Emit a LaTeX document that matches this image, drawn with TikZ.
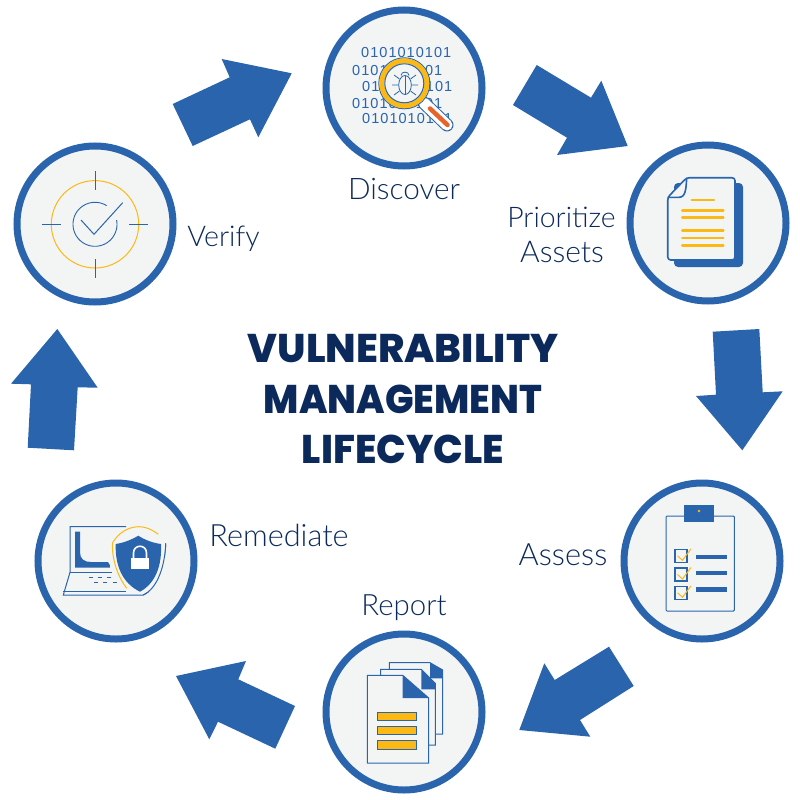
\documentclass[tikz,border=0pt]{standalone}
\usepackage{graphicx}
\usepackage{fontspec}
\setmainfont{Lato Light}
\newfontfamily\titlefont{Poppins ExtraBold}
\newfontfamily\bitfont[LetterSpace=7.2]{Liberation Sans}
\definecolor{brand}{HTML}{2A64AD}
\definecolor{pale}{HTML}{F3F5F5}
\definecolor{gold}{HTML}{FDB913}
\definecolor{navy}{HTML}{0B2A5B}
\definecolor{ember}{HTML}{E8632B}
\tikzset{
  ring/.style={circle,draw=brand,fill=pale,line width=7pt,minimum size=156pt,inner sep=0pt},
  lab/.style={text=navy,font=\fontsize{#1}{#1}\selectfont,inner sep=0pt,anchor=center},
  ttl/.style={text=navy,font=\titlefont\fontsize{40}{40}\selectfont,inner sep=0pt,anchor=center},
  bits/.style={text=brand,font=\bitfont\fontsize{14.5}{14.5}\selectfont,inner sep=0pt,anchor=west},
  blk/.style={fill=brand},
  ln/.style={draw=brand,line width=1pt},
  gl/.style={draw=gold,line width=2.7pt,line cap=round},
  bar/.style={fill=brand},
  goldbar/.style={fill=gold,draw=brand,line width=1pt},
  docpage/.style={draw=brand,fill=pale,line width=1pt},
}
\begin{document}
\begin{tikzpicture}[x=1pt,y=-1pt]
\useasboundingbox (0,0) rectangle (800,800);
% arrows
\fill[blk] (172.7,104) -- (192.7,146) -- (250,119.3) -- (258.3,137.3) -- (291.7,73.3) -- (221.7,59) -- (229.7,77.3) -- cycle;
\fill[blk] (536.7,65) -- (591,97.7) -- (601.3,80.7) -- (627.7,146) -- (557,155) -- (567,137.7) -- (513,105) -- cycle;
\fill[blk] (712.7,331.7) -- (759.3,329) -- (762.7,392.3) -- (782.7,391.3) -- (742.3,450.3) -- (696,396) -- (716,394.7) -- cycle;
\fill[blk] (609,646.7) -- (633.7,686) -- (580,720) -- (590.3,736.7) -- (519.3,730) -- (544.3,663.3) -- (554.7,680) -- cycle;
\fill[blk] (246,661) -- (176,676) -- (209.3,739.3) -- (218,721.7) -- (275.3,748.7) -- (295,706) -- (238.3,679.3) -- cycle;
\fill[blk] (57.3,329) -- (97.7,387.7) -- (77.7,387.3) -- (74,450.3) -- (27.7,447.7) -- (31,384.3) -- (11,383.7) -- cycle;
% rings
\node[ring] (discover) at (404,88) {};
\node[ring] (prioritize) at (708,223) {};
\node[ring] (assess) at (702,561) {};
\node[ring] (report) at (404,712) {};
\node[ring] (remediate) at (116,561) {};
\node[ring] (verify) at (95,224) {};
% labels
\node[lab=29.7] (l1) at (404,189) {Discover};
\node[lab=28.4] (l2) at (561.5,217) {Prioritize};
\node[lab=30] (l2b) at (562,252) {Assets};
\node[lab=30.8] (l3) at (563,555) {Assess};
\node[lab=29.4] (l4) at (404,608) {Report};
\node[lab=30.7] (l5) at (279,535) {Remediate};
\node[lab=28.6] (l6) at (223.5,239) {Verify};
% title
\node[ttl] (t1) at (403,349) {VULNERABILITY};
\node[ttl] (t2) at (403,399) {\scalebox{0.945}[1]{MANAGEMENT}};
\node[ttl] (t3) at (403,449) {\scalebox{0.98}[1]{LIFECYCLE}};
% discover icon
\node[bits] (b1) at (361,53) {0101010101};
\node[bits] (b2) at (352,71) {0101010101};
\node[bits] (b3) at (362,87) {0101010101};
\node[bits] (b4) at (352,104) {0101010101};
\node[bits] (b5) at (362,119) {0101010101};
\draw[brand,line width=13pt,line cap=round] (424,103) -- (447,125);
\draw[white,line width=11pt,line cap=round] (424,103) -- (447,125);
\draw[ember,line width=4.5pt,line cap=round] (430,108.5) -- (447.5,125);
\fill[pale] (404.3,83.3) circle (25);
\draw[brand,line width=1pt] (404.3,83.3) circle (25.5);
\draw[gold,line width=5pt] (404.3,83.3) circle (22.5);
\draw[brand,line width=1pt] (404.3,83.3) circle (19.5);
\draw[brand,line width=.8pt] (405,85) ellipse (6.3 and 9.5);
\draw[brand,line width=.8pt] (405,76) -- (405,95);
\draw[brand,line width=.8pt] (401,75.5) .. controls (401,71) and (409,71) .. (409,75.5);
\draw[brand,line width=.8pt] (399.5,79) -- (394,75) (398.7,85) -- (392,85) (399.5,91) -- (394,95);
\draw[brand,line width=.8pt] (410.5,79) -- (416,75) (411.3,85) -- (418,85) (410.5,91) -- (416,95);
% prioritize icon
\fill[brand,rounded corners=4pt] (674,183) rectangle (743,267);
\draw[brand,fill=pale,line width=1.6pt,rounded corners=3pt] (686.7,177.7) -- (735,177.7) -- (735,260) -- (667.7,260) -- (667.7,197.3) -- cycle;
\draw[brand,line width=1.6pt] (686.7,177.7) .. controls (686,188) and (686,197.3) .. (679,197.3) -- (667.7,197.3);
\draw[gl] (691.7,200) -- (714,200);
\draw[gl] (682.3,210.3) -- (723.3,210.3);
\draw[gl] (682.3,217.3) -- (723.3,217.3);
\draw[gl] (682.3,230.7) -- (723.3,230.7);
\draw[gl] (682.3,238) -- (723.3,238);
\draw[gl] (682.3,245.7) -- (723.3,245.7);
% assess icon
\draw[ln,rounded corners=1pt] (666,516) rectangle (734.3,611);
\fill[bar] (683.7,504.7) rectangle (714.3,522.3);
\fill[gold] (699,511) circle (1.3);
\foreach \yy in {549.3,568,586.3}{
  \draw[brand,line width=1.2pt] (675,\yy) rectangle (687,\yy+13);
  \draw[gold,line width=1pt] (677.5,\yy+6.5) -- (682.5,\yy+11) -- (691,\yy-0.5);
}
\fill[bar] (695.7,554.7) rectangle (726.7,558.9);
\fill[bar] (695.7,571) rectangle (726.7,575.2);
\fill[bar] (695.7,587.3) rectangle (726.7,591.5);
% report icon
\draw[docpage] (389.3,662.7) -- (430,662.7) -- (442.7,670) -- (442.7,734) -- (389.3,734) -- cycle;
\fill[bar] (430,662.7) -- (442.7,670) -- (442.7,678.3) -- (430,678.3) -- cycle;
\draw[docpage] (380.7,669.3) -- (421.3,669.3) -- (435.3,683.3) -- (435.3,745) -- (380.7,745) -- cycle;
\fill[bar] (421.3,669.3) -- (435.3,683.3) -- (435.3,689.3) -- (421.3,689.3) -- cycle;
\draw[docpage] (367.3,675.3) -- (402.7,675.3) -- (428.7,698) -- (428.7,763) -- (367.3,763) -- cycle;
\fill[bar] (402.7,675.3) -- (428.7,698) -- (402.7,698) -- cycle;
\draw[goldbar] (377.7,712) rectangle (416.7,720.3);
\draw[goldbar] (377.7,726) rectangle (416.7,734.3);
\draw[goldbar] (377.7,740.7) rectangle (416.7,749);
% remediate icon
\draw[ln] (126,526.7) -- (70,526.7) -- (70,572.3) -- (63.3,595) -- (143.3,595) .. controls (158,588) and (165,565) .. (165.7,543.3);
\draw[ln] (70,572) -- (112,572);
\draw[ln] (63.3,591.7) -- (126,591.7);
\fill[bar] (75,531.7) -- (80,531.7) -- (80,552) .. controls (80,559) and (84,562) .. (91,562) -- (108,562) .. controls (110,564) and (110,566) .. (110,567.7) -- (75,567.7) -- cycle;
\foreach \xx in {89.3,98.3,107.3}{\draw[brand,line width=.9pt] (\xx,577.3) -- (\xx+4,577.3);}
\foreach \xx in {94,103.3,112.7}{\draw[brand,line width=.9pt] (\xx,582.7) -- (\xx+4,582.7);}
\fill[pale] (112,530) .. controls (118,570) and (125,590) .. (140,593) -- (165,590) -- (165,530) -- cycle;
\draw[ln] (143.3,595) .. controls (158,588) and (165,565) .. (165.7,543.3);
\fill[bar] (138.3,535.7) .. controls (131,540) and (123,543) .. (115.7,544) .. controls (115,565) and (122,583) .. (140,591.7) .. controls (156,583) and (162,565) .. (161,544) .. controls (153,543) and (145,540) .. (138.3,535.7) -- cycle;
\fill[white] (130.7,557.7) rectangle (149.3,569.3);
\draw[white,line width=1.6pt] (133.5,558) -- (133.5,553) .. controls (133.5,544) and (146.5,544) .. (146.5,553) -- (146.5,558);
\draw[gold,line width=1pt] (158.3,534.3) .. controls (150,528) and (144,526.7) .. (138.3,526.7) .. controls (128,527) and (118,533) .. (112.3,543.3) .. controls (112,560) and (118,577) .. (126.7,588.3);
% verify icon
\draw[gold,line width=1pt] (95,224.3) circle (43.7);
\draw[brand,line width=1pt] (95,171) -- (95,190) (95,259) -- (95,278.3) (41.7,224.3) -- (60.7,224.3) (129.3,224.3) -- (148.3,224.3);
\draw[brand,line width=.9pt] plot[domain=-11:302,samples=70,smooth] ({95+22*cos(\x)},{224.3+22*sin(\x)});
\draw[brand,line width=1pt] (81,220) -- (94,234.3) -- (122.7,202.7);
\end{tikzpicture}
\end{document}
